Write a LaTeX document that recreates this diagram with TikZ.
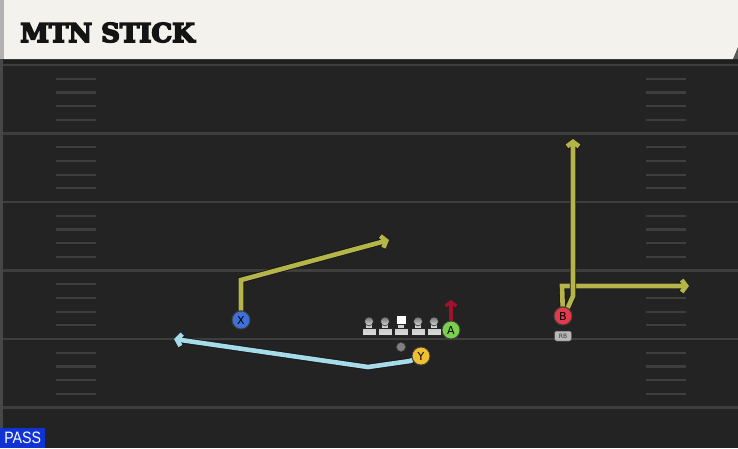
\documentclass[tikz,border=0pt]{standalone}
\usepackage{fontspec}
\setmainfont{DejaVu Sans}
\newfontface\titlefont{DejaVu Serif Bold}[FakeBold=6]
\newfontfamily\passfont{Liberation Sans}[FakeStretch=0.86]
\usetikzlibrary{arrows.meta}
\definecolor{cream}{HTML}{F4F2EC}
\definecolor{fieldc}{HTML}{232323}
\definecolor{linec}{HTML}{3E3E3E}
\definecolor{olive}{HTML}{B5B54A}
\definecolor{cyanr}{HTML}{A6DCEA}
\definecolor{xblue}{HTML}{3F6FD8}
\definecolor{yyel}{HTML}{EEC032}
\definecolor{agreen}{HTML}{7CCF4C}
\definecolor{bred}{HTML}{E5394B}
\definecolor{blockred}{HTML}{A3102E}
\definecolor{passblue}{HTML}{1133D6}
\pgfdeclarelayer{field}
\pgfdeclarelayer{routes}
\pgfsetlayers{field,routes,main}
\tikzset{
  player/.style={circle, draw=black!75, line width=0.9pt, fill=#1, minimum size=18pt, inner sep=0pt,
    font=\fontsize{11}{11}\selectfont, text=black},
  route/.style={line width=4.6pt, draw=#1, preaction={draw=black!90, line width=6.4pt},
    -{Straight Barb[length=4.5pt,width=12pt]}},
  yardln/.style={draw=linec, line width=2.2pt},
  hashln/.style={draw=linec, line width=2.2pt},
  lman/.pic={
    \draw[black!85, line width=0.6pt, fill=black!18] (-3.3,7) rectangle (3.3,12);
    \draw[black!85, line width=0.6pt, top color=black!55, bottom color=black!15] (0,4.4) circle (4.5);
    \draw[black!85, line width=0.6pt, top color=black!20, bottom color=black!14] (-7,11.5) rectangle (7,18);
  },
  cman/.pic={
    \draw[black!85, line width=0.6pt, fill=black!18] (-3.3,7) rectangle (3.3,12);
    \draw[black!85, line width=0.6pt, fill=white] (-4.8,-1.8) rectangle (4.8,7);
    \draw[black!85, line width=0.6pt, top color=black!20, bottom color=black!14] (-7,11.5) rectangle (7,18);
  },
}
\begin{document}
\begin{tikzpicture}[x=1pt,y=-1pt]
\useasboundingbox (0,0) rectangle (738,448);
\begin{pgfonlayer}{field}
  % field
  \fill[fieldc] (0,59) rectangle (738,448);
  \fill[black!88] (0,59) rectangle (738,63);
  \fill[black!72] (0,59) rectangle (3,448);
  % yard lines
  \foreach \k in {0,5,10,15,20,25}
    \draw[yardln] (3,65+13.7*\k) -- (738,65+13.7*\k);
  % hash marks
  \foreach \k in {1,2,3,4,6,7,8,9,11,12,13,14,16,17,18,19,21,22,23,24} {
    \draw[hashln] (56,65+13.7*\k) -- (96,65+13.7*\k);
    \draw[hashln] (646,65+13.7*\k) -- (686,65+13.7*\k);
  }
  % header
  \fill[cream] (4,0) -- (738,0) -- (738,47) -- (733,59) -- (4,59) -- cycle;
  \fill[black!30] (0,0) rectangle (4,59);
  \fill[black!65] (738,47) -- (738,59) -- (733,59) -- cycle;
\end{pgfonlayer}

\node[anchor=base west, inner sep=0pt, text=black!92, font=\titlefont\fontsize{26}{26}\selectfont] (title) at (20,42) {MTN STICK};

\node[anchor=south west, fill=passblue, minimum width=45pt, minimum height=20pt, inner sep=0pt,
  text=white, font=\passfont\fontsize{16.5}{16.5}\selectfont] (pass) at (0,448) {PASS};

% line
\pic at (369,317) {lman};
\pic at (385,317) {lman};
\pic at (401,317) {cman};
\pic at (418,317) {lman};
\pic at (434,317) {lman};
\node[circle, fill=black!50, draw=black!70, line width=0.5pt, minimum size=9pt, inner sep=0pt] (ball) at (401,347) {};

% players
\node[player=xblue] (X) at (241,320) {X};
\node[player=yyel] (Y) at (421,356) {Y};
\node[player=agreen] (A) at (451,330) {A};
\node[player=bred] (B) at (563,316) {B};
\node[draw=black!70, line width=0.5pt, fill=black!28, rounded corners=2pt, minimum width=17pt, minimum height=10pt,
  inner sep=0pt, text=black!80, font=\fontsize{6}{6}\selectfont] (rb) at (563,336) {RB};

% route points
\coordinate (x1) at (241,280);
\coordinate (x2) at (389,240);
\coordinate (y1) at (410,361);
\coordinate (y2) at (368,367);
\coordinate (y3) at (174,339);
\coordinate (b1) at (562,286);
\coordinate (b2) at (689,286);
\coordinate (b3) at (573,296);
\coordinate (b4) at (573,139);
\coordinate (a1) at (451,300);

\begin{pgfonlayer}{routes}
  \draw[route=olive] (X) -- (x1) -- (x2);
  \draw[route=cyanr] (Y) -- (y1) -- (y2) -- (y3);
  \draw[route=olive] (B) -- (b1) -- (b2);
  \draw[route=olive] (B.60) -- (b3) -- (b4);
  \draw[blockred, line width=3.2pt, -{Straight Barb[length=4pt,width=11pt]}] (A.north) -- (a1);
\end{pgfonlayer}
\end{tikzpicture}
\end{document}
